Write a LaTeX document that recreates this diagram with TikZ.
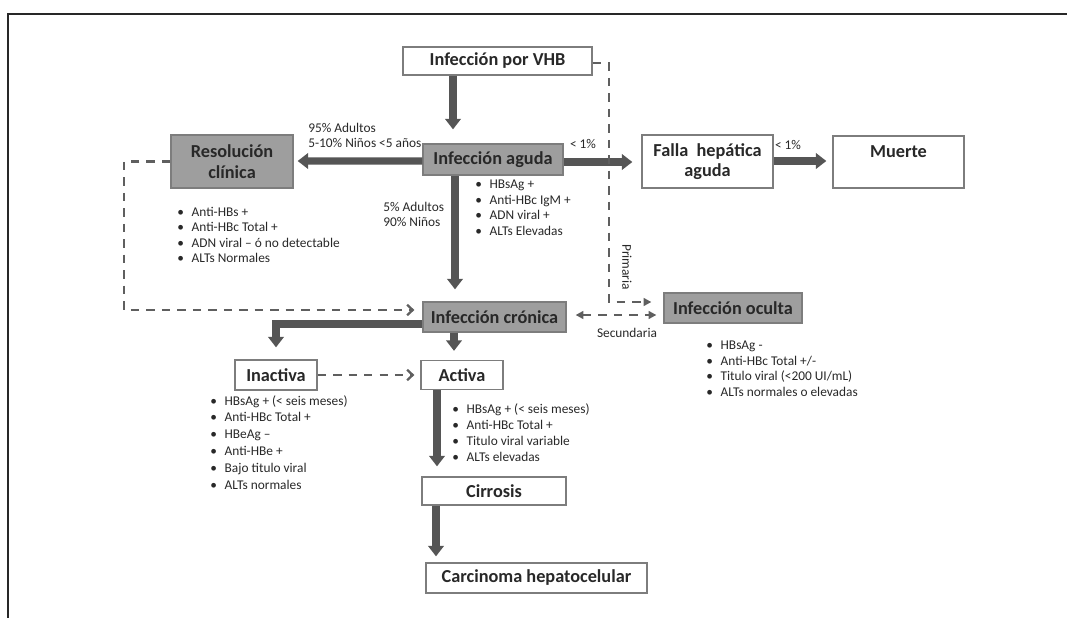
\documentclass[tikz,border=0pt]{standalone}
\usepackage{fontspec}
\setmainfont{Carlito}
\usepackage{tikz}
\usetikzlibrary{arrows.meta, positioning, calc}
\definecolor{mydark}{RGB}{40,40,40}
\definecolor{myarrow}{RGB}{85,85,85}
\definecolor{mydash}{RGB}{95,95,95}
\definecolor{myframe}{RGB}{125,125,125}
\definecolor{mygray}{RGB}{158,158,158}
\newcommand{\itm}{\textbullet\hspace{5.5pt}}
\tikzset{
  box/.style={rectangle, draw=myframe, fill=white, line width=0.9pt,
    align=center, inner sep=0pt, text=mydark,
    font=\fontsize{13}{14.5}\selectfont\bfseries},
  graybox/.style={box, fill=mygray},
  boxsize/.style 2 args={minimum width=#1*0.025cm, minimum height=#2*0.025cm},
  fatarrow/.style={-{Triangle[width=11pt,length=7.5pt]}, line width=5pt, color=myarrow},
  dasharrow/.style={dash pattern=on 6pt off 5pt, line width=1.6pt, color=mydash},
  smalltip/.style={-{Triangle[width=5.5pt,length=5.5pt]}},
  chev/.style={-{Straight Barb[width=7.5pt,length=4pt]}},
  note/.style={font=\fontsize{9.5}{11}\selectfont, align=left, inner sep=0pt, text=mydark},
  bullets/.style={note, anchor=north west}
}

\begin{document}
\begin{tikzpicture}[x=0.025cm, y=-0.025cm]
  \useasboundingbox (0,0) rectangle (1067,618);
  % Outer frame
  \draw[mydark, line width=1.6pt] (8,618) -- (8,14) -- (1067,14);

  % Boxes
  \node[box, boxsize={189}{28}] (vhb) at (497.5,61) {Infección por VHB};
  \node[graybox, boxsize={140}{31}] (aguda) at (493,159.5) {Infección aguda};
  \node[graybox, boxsize={122}{53}] (resol) at (232,161.5) {Resolución\\clínica};
  \node[box, boxsize={131}{53}] (falla) at (707.5,161.5) {Falla\ \ hepática\\aguda};
  \node[box, boxsize={131}{52}] (muerte) at (898.5,162) {Muerte\\\mbox{}};
  \node[graybox, boxsize={143}{30}] (cronica) at (494.5,317) {Infección crónica};
  \node[graybox, boxsize={138}{30}] (oculta) at (733,308) {Infección oculta};
  \node[box, boxsize={82}{30}] (inactiva) at (276,375) {Inactiva};
  \node[box, boxsize={82}{29}] (activa) at (462,375) {Activa};
  \node[box, boxsize={144}{28}] (cirrosis) at (494,491) {Cirrosis};
  \node[box, boxsize={221}{30}] (carcinoma) at (536.5,578) {Carcinoma hepatocelular};

  % Main arrows
  \draw[fatarrow] ($(vhb.south)+(-44.5,0)$) -- ($(aguda.north)+(-40,-14)$);
  \draw[fatarrow] ($(aguda.west)+(0,1.5)$) -- ($(resol.east)+(4,-0.5)$);
  \draw[fatarrow] ($(aguda.east)+(0,2.5)$) -- ($(falla.west)+(-9,0.5)$);
  \draw[fatarrow] ($(falla.east)+(0,-0.5)$) -- ($(muerte.west)+(-6,-1)$);
  \draw[fatarrow] ($(aguda.south)+(-38,0)$) -- ($(cronica.north)+(-39.5,-12)$);
  \draw[fatarrow] ($(cronica.west)+(0,7)$) -| ($(inactiva.north)+(0,-12)$);
  \draw[fatarrow] ($(cronica.south)+(-40.5,0)$) -- ($(activa.north)+(-8,-9)$);
  \draw[fatarrow] ($(activa.south)+(-25,0)$) -- ($(cirrosis.north)+(-57,-10)$);
  \draw[fatarrow] ($(cirrosis.south)+(-58,0)$) -- ($(carcinoma.north)+(-100.5,-6)$);

  % Dashed links
  \draw[dasharrow, chev] (resol.west) -- ++(-46,0) |- ($(cronica.west)+(-8,-7)$);
  \draw[dasharrow, smalltip] ($(vhb.east)+(0,2)$) -- ++(16,0) |- ($(oculta.west)+(-12,-6)$);
  \draw[dasharrow, {Triangle[width=5.5pt,length=5.5pt]}-{Triangle[width=5.5pt,length=5.5pt]}]
    ($(cronica.east)+(9,-2)$) -- ($(oculta.west)+(-7,7)$);
  \draw[dasharrow, chev] (inactiva.east) -- ($(activa.west)+(-6,0)$);

  % Labels
  \node[note, anchor=west] (lbladultos) at (308,135.5) {95\% Adultos\\5-10\% Niños <5 años};
  \node[note, anchor=west] (lblninos) at (383,214.5) {5\% Adultos\\90\% Niños};
  \node[note] (lblfalla) at (583,144) {< 1\%};
  \node[note] (lblmuerte) at (788,145) {< 1\%};
  \node[note, rotate=-90] (lblprim) at (627,267) {Primaria};
  \node[note] (lblsec) at (627,333) {Secundaria};

  % Bullet lists
  \node[bullets] (listresol) at (177,207) {\itm Anti-HBs +\\\itm Anti-HBc Total +\\
    \itm ADN viral -- ó no detectable\\\itm ALTs Normales};
  \node[bullets] (listaguda) at (475,180) {\itm HBsAg +\\
    \itm Anti-HBc IgM +\\\itm ADN viral +\\\itm ALTs Elevadas};
  \node[bullets, font=\fontsize{9.5}{11.4}\selectfont] (listactiva) at (452,403) {\itm HBsAg + (< seis meses)\\
    \itm Anti-HBc Total +\\\itm Titulo viral variable\\\itm ALTs elevadas};
  \node[bullets, font=\fontsize{9.5}{12}\selectfont] (listinactiva) at (210,395) {\itm HBsAg + (< seis meses)\\
    \itm Anti-HBc Total +\\\itm HBeAg --\\\itm Anti-HBe +\\\itm Bajo titulo viral\\\itm ALTs normales};
  \node[bullets] (listoculta) at (706,341) {\itm HBsAg -\\\itm Anti-HBc Total +/-\\
    \itm Titulo viral (<200 UI/mL)\\\itm ALTs normales o elevadas};
\end{tikzpicture}
\end{document}
